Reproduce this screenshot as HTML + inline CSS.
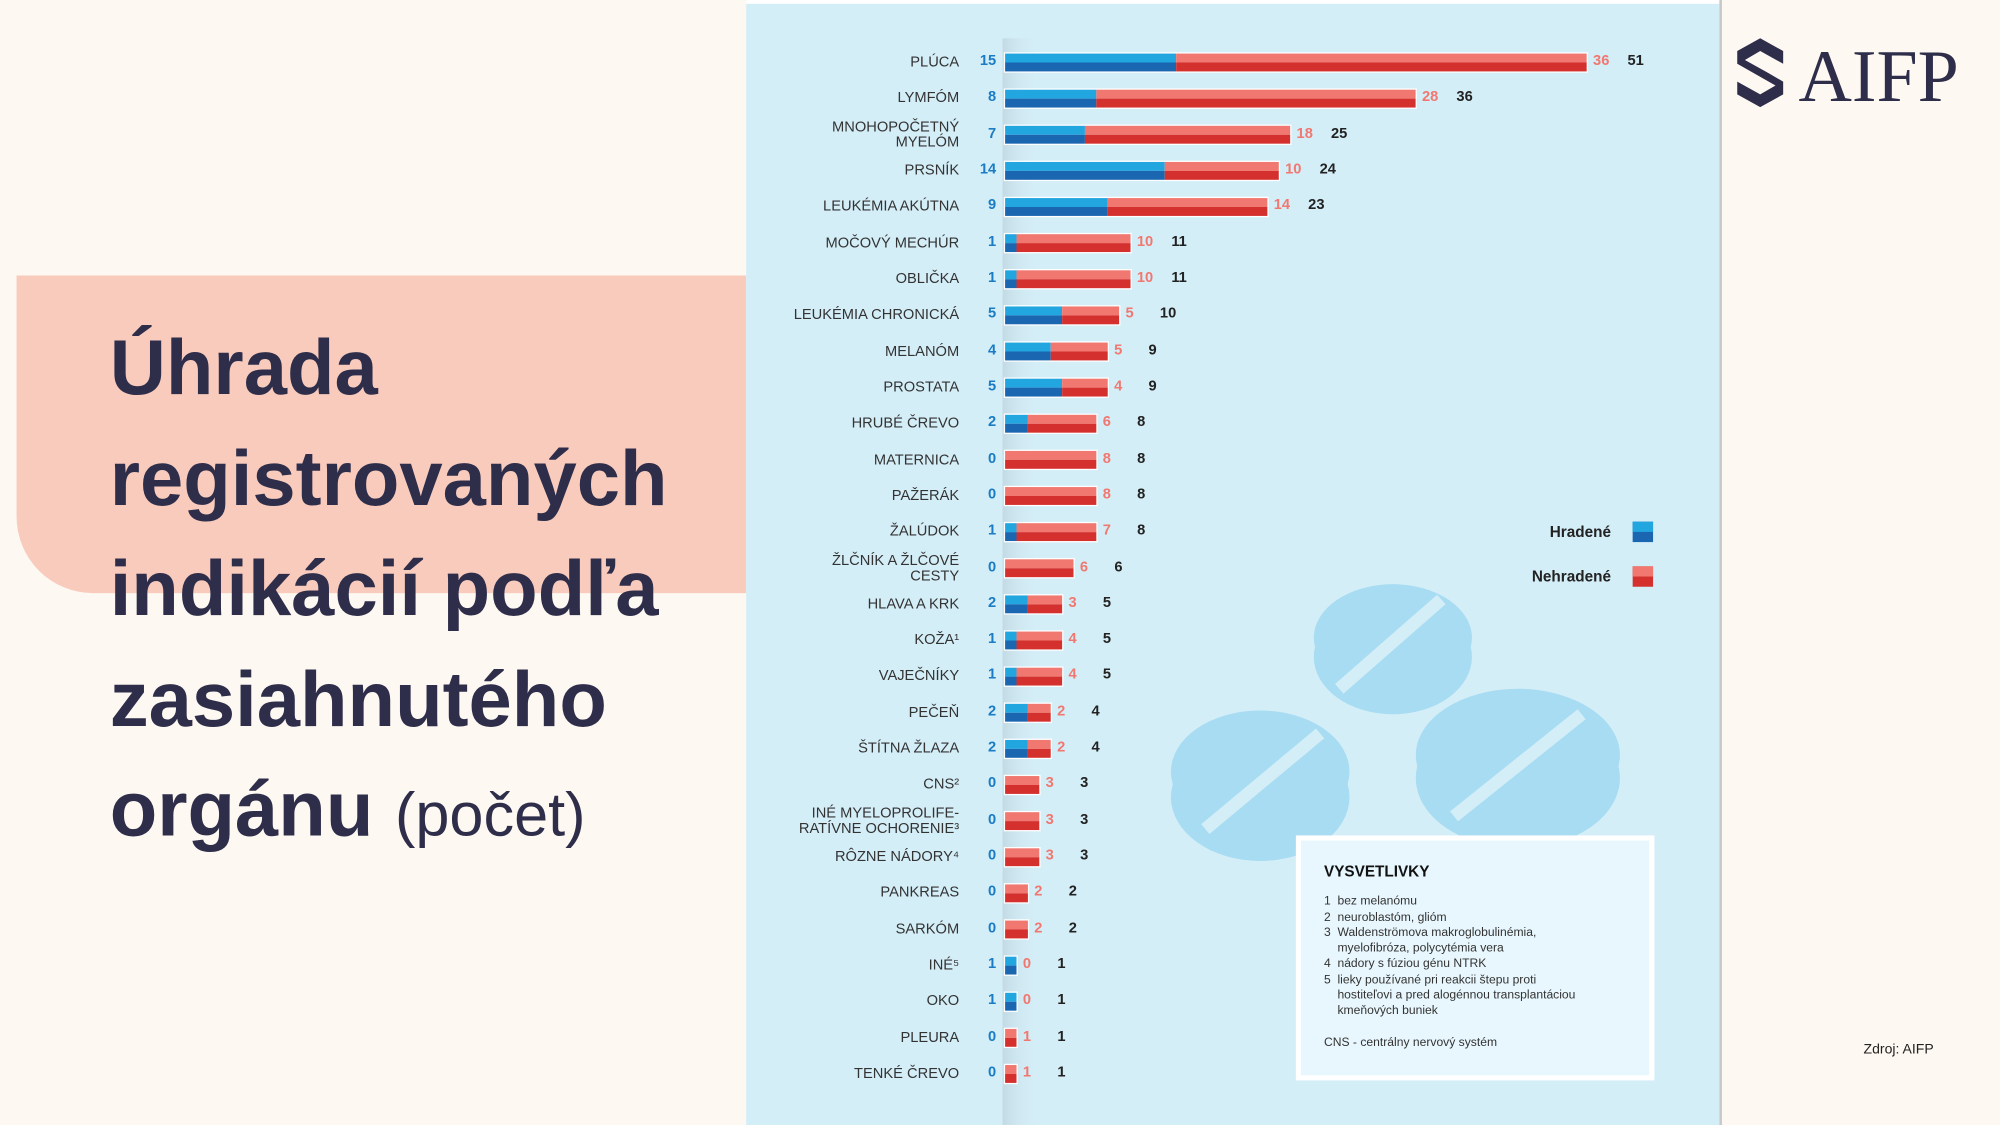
<!DOCTYPE html>
<html><head><meta charset="utf-8"><style>
*{margin:0;padding:0;box-sizing:border-box}
body{width:2000px;height:1125px;overflow:hidden;background:#fdf8f1;font-family:"Liberation Sans",sans-serif}
#w{position:absolute;left:0;top:0;width:1568px;height:882px;transform:scale(1.27551);transform-origin:0 0}
.a{position:absolute;white-space:nowrap}
</style></head><body><div id="w">
<div class="a" style="left:13px;top:216px;width:572px;height:249px;background:#f8cbbd;border-bottom-left-radius:60px"></div>
<div class="a" style="left:86px;top:245px;font-size:61px;font-weight:bold;color:#2e2d4a;line-height:86.5px">Úhrada<br>registrovaných<br>indikácií podľa<br>zasiahnutého<br>orgánu <span style="font-weight:normal;font-size:48px">(počet)</span></div>
<div class="a" style="left:585px;top:0;width:763px;height:882px;background:#d4eef8;border-top:3px solid #fff"></div>
<div class="a" style="left:1348px;top:0;width:2px;height:882px;background:#c8c8c8"></div>
<svg class="a" style="left:0;top:0" width="1568" height="882">
<defs><linearGradient id="g" x1="0" x2="1"><stop offset="0" stop-color="#b8cdd6" stop-opacity="0.6"/><stop offset="1" stop-color="#d4eef8" stop-opacity="0"/></linearGradient></defs>
<g fill="#a8dcf2">
<ellipse cx="1092" cy="515" rx="62" ry="45"/><ellipse cx="1092" cy="500" rx="62" ry="42"/>
<ellipse cx="988" cy="625" rx="70" ry="50"/><ellipse cx="988" cy="605" rx="70" ry="48"/>
<ellipse cx="1190" cy="610" rx="80" ry="55"/><ellipse cx="1190" cy="592" rx="80" ry="52"/>
</g>
<g stroke="#d4eef8" stroke-width="10"><line x1="1050" y1="540" x2="1130" y2="470"/><line x1="945" y1="650" x2="1035" y2="575"/><line x1="1140" y1="640" x2="1240" y2="560"/></g>
<rect x="786" y="30" width="30" height="852" fill="url(#g)"/>
<g id="bars"></g>
<rect x="1280" y="409" width="16" height="16" fill="#1a66b0"/><rect x="1280" y="409" width="16" height="8" fill="#22a6e0"/>
<rect x="1280" y="444" width="16" height="16" fill="#d4302e"/><rect x="1280" y="444" width="16" height="8" fill="#f07870"/>
<g fill="#2e2d4a"><path d="M1380 30 L1398 40 L1398 50 L1380 40 L1368 47 L1386 57 L1398 64 L1398 74 L1380 84 L1362 74 L1362 64 L1380 74 L1392 67 L1362 50 L1362 40 Z"/></g>
</svg>
<div class="a" style="left:1410px;top:26px;font-family:'Liberation Serif',serif;font-size:58px;color:#2e2d4a">AIFP</div>
<div class="a" style="left:1263px;top:410px;transform:translateX(-100%);font-size:12px;font-weight:bold;color:#222">Hradené</div>
<div class="a" style="left:1263px;top:445px;transform:translateX(-100%);font-size:12px;font-weight:bold;color:#222">Nehradené</div>
<div class="a" style="left:1016px;top:655px;width:281px;height:192px;border:4px solid #fff;background:#e8f7fd;padding:18px 0 0 18px;font-size:9.5px;color:#333;line-height:12.3px">
<div style="font-weight:bold;font-size:12px;color:#111;margin-bottom:12px">VYSVETLIVKY</div>
1&nbsp; bez melanómu<br>2&nbsp; neuroblastóm, glióm<br>3&nbsp; Waldenströmova makroglobulinémia,<br>&nbsp;&nbsp;&nbsp; myelofibróza, polycytémia vera<br>4&nbsp; nádory s fúziou génu NTRK<br>5&nbsp; lieky používané pri reakcii štepu proti<br>&nbsp;&nbsp;&nbsp; hostiteľovi a pred alogénnou transplantáciou<br>&nbsp;&nbsp;&nbsp; kmeňových buniek<br><div style="margin-top:12px">CNS - centrálny nervový systém</div></div>
<div class="a" style="left:1461px;top:817px;font-size:11px;color:#222">Zdroj: AIFP</div>
<div id="lab"></div>
</div>
<script>
var d=[["PLÚCA",15,36],["LYMFÓM",8,28],["MNOHOPOČETNÝ<br>MYELÓM",7,18],["PRSNÍK",14,10],["LEUKÉMIA AKÚTNA",9,14],["MOČOVÝ MECHÚR",1,10],["OBLIČKA",1,10],["LEUKÉMIA CHRONICKÁ",5,5],["MELANÓM",4,5],["PROSTATA",5,4],["HRUBÉ ČREVO",2,6],["MATERNICA",0,8],["PAŽERÁK",0,8],["ŽALÚDOK",1,7],["ŽLČNÍK A ŽLČOVÉ<br>CESTY",0,6],["HLAVA A KRK",2,3],["KOŽA¹",1,4],["VAJEČNÍKY",1,4],["PEČEŇ",2,2],["ŠTÍTNA ŽLAZA",2,2],["CNS²",0,3],["INÉ MYELOPROLIFE-<br>RATÍVNE OCHORENIE³",0,3],["RÔZNE NÁDORY⁴",0,3],["PANKREAS",0,2],["SARKÓM",0,2],["INÉ⁵",1,0],["OKO",1,0],["PLEURA",0,1],["TENKÉ ČREVO",0,1]];
var n=d.length,y0=49,y1=842,sp=(y1-y0)/(n-1),u=8.94,x0=788,svg="",h="";
d.forEach(function(r,i){var y=y0+i*sp,b=r[1]*u,t=(r[1]+r[2])*u,top=y-7;
svg+='<rect x="'+(x0-1)+'" y="'+(top-1)+'" width="'+(t+2)+'" height="16" fill="#fff"/>';
if(b){svg+='<rect x="'+x0+'" y="'+top+'" width="'+b+'" height="7" fill="#22a6e0"/><rect x="'+x0+'" y="'+(top+7)+'" width="'+b+'" height="7" fill="#1a66b0"/>';}
if(r[2]){svg+='<rect x="'+(x0+b)+'" y="'+top+'" width="'+(r[2]*u)+'" height="7" fill="#f07870"/><rect x="'+(x0+b)+'" y="'+(top+7)+'" width="'+(r[2]*u)+'" height="7" fill="#d4302e"/>';}
var two=r[0].indexOf("<br>")>=0;
h+='<div class="a" style="right:'+(1568-752)+'px;top:'+(y-(two?12:6))+'px;text-align:right;font-size:11.5px;line-height:12.5px;color:#333">'+r[0]+'</div>';
h+='<div class="a" style="right:'+(1568-781)+'px;top:'+(y-7)+'px;font-size:11.5px;font-weight:bold;color:#1a7cc4">'+r[1]+'</div>';
h+='<div class="a" style="left:'+(x0+t+5)+'px;top:'+(y-7)+'px;font-size:11.5px;font-weight:bold;color:#f07870">'+r[2]+'</div>';
h+='<div class="a" style="left:'+(x0+t+32)+'px;top:'+(y-7)+'px;font-size:11.5px;font-weight:bold;color:#222">'+(r[1]+r[2])+'</div>';});
document.getElementById("bars").innerHTML=svg;document.getElementById("lab").innerHTML=h;
</script>
</body></html>
